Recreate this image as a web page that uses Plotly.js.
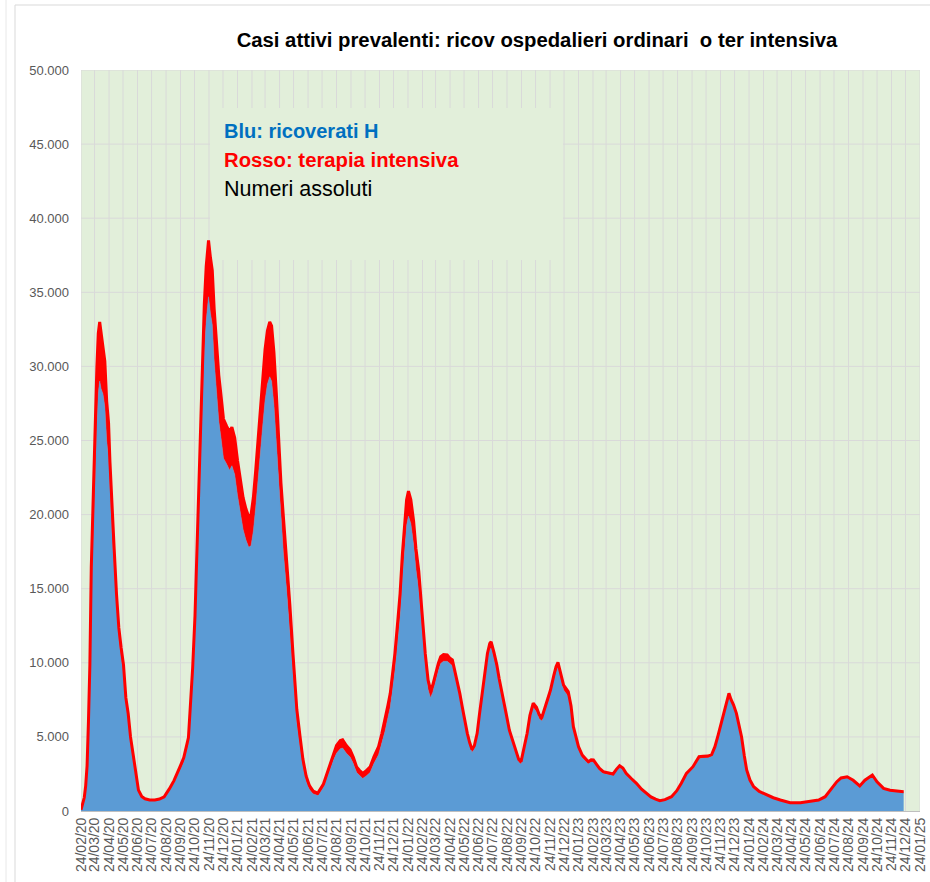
<!DOCTYPE html>
<html>
<head>
<meta charset="utf-8">
<script src="https://cdn.plot.ly/plotly-3.0.1.min.js"></script>
<style>html,body{margin:0;padding:0;background:#fff;}#chart{width:930px;height:882px;}</style>
</head>
<body>
<div id="chart"></div>
<script>
const dates = ["2020-02-24","2020-02-28","2020-03-02","2020-03-05","2020-03-08","2020-03-11","2020-03-14","2020-03-17","2020-03-20","2020-03-23","2020-03-26","2020-03-29","2020-04-01","2020-04-04","2020-04-07","2020-04-11","2020-04-15","2020-04-19","2020-04-23","2020-04-26","2020-05-01","2020-05-05","2020-05-10","2020-05-15","2020-05-20","2020-05-25","2020-05-30","2020-06-04","2020-06-09","2020-06-15","2020-06-20","2020-06-26","2020-07-03","2020-07-10","2020-07-20","2020-07-31","2020-08-10","2020-08-20","2020-08-31","2020-09-10","2020-09-23","2020-10-01","2020-10-11","2020-10-15","2020-10-20","2020-10-25","2020-10-29","2020-11-02","2020-11-06","2020-11-10","2020-11-14","2020-11-18","2020-11-23","2020-11-27","2020-12-01","2020-12-05","2020-12-10","2020-12-15","2020-12-20","2020-12-25","2021-01-01","2021-01-07","2021-01-12","2021-01-18","2021-01-24","2021-01-30","2021-02-05","2021-02-11","2021-02-17","2021-02-22","2021-02-27","2021-03-04","2021-03-09","2021-03-14","2021-03-19","2021-03-24","2021-03-29","2021-04-03","2021-04-07","2021-04-12","2021-04-17","2021-04-22","2021-04-27","2021-05-02","2021-05-09","2021-05-16","2021-05-23","2021-05-31","2021-06-07","2021-06-13","2021-06-20","2021-06-27","2021-07-05","2021-07-15","2021-07-27","2021-08-03","2021-08-10","2021-08-17","2021-08-24","2021-09-01","2021-09-06","2021-09-14","2021-09-22","2021-09-29","2021-10-06","2021-10-12","2021-10-19","2021-10-26","2021-11-04","2021-11-12","2021-11-22","2021-11-29","2021-12-06","2021-12-12","2021-12-17","2021-12-22","2021-12-27","2022-01-02","2022-01-07","2022-01-12","2022-01-16","2022-01-21","2022-01-25","2022-01-30","2022-02-05","2022-02-10","2022-02-16","2022-02-23","2022-03-02","2022-03-08","2022-03-13","2022-03-18","2022-03-24","2022-03-30","2022-04-04","2022-04-10","2022-04-18","2022-04-24","2022-04-29","2022-05-04","2022-05-09","2022-05-15","2022-05-20","2022-05-25","2022-05-31","2022-06-05","2022-06-10","2022-06-15","2022-06-21","2022-06-26","2022-07-02","2022-07-07","2022-07-13","2022-07-18","2022-07-21","2022-07-27","2022-08-02","2022-08-07","2022-08-14","2022-08-22","2022-08-29","2022-09-05","2022-09-12","2022-09-18","2022-09-23","2022-09-28","2022-10-06","2022-10-12","2022-10-19","2022-10-26","2022-11-01","2022-11-07","2022-11-15","2022-11-25","2022-12-02","2022-12-07","2022-12-11","2022-12-17","2022-12-23","2023-01-02","2023-01-08","2023-01-13","2023-01-19","2023-01-24","2023-02-01","2023-02-08","2023-02-14","2023-02-20","2023-02-25","2023-03-04","2023-03-10","2023-03-18","2023-03-28","2023-04-08","2023-04-15","2023-04-22","2023-04-29","2023-05-06","2023-05-17","2023-05-28","2023-06-08","2023-06-18","2023-06-28","2023-07-08","2023-07-17","2023-07-28","2023-08-11","2023-08-22","2023-09-01","2023-09-12","2023-09-19","2023-09-26","2023-10-02","2023-10-09","2023-10-18","2023-10-28","2023-11-05","2023-11-12","2023-11-19","2023-11-26","2023-12-04","2023-12-12","2023-12-16","2023-12-22","2023-12-28","2024-01-03","2024-01-08","2024-01-14","2024-01-19","2024-01-26","2024-02-03","2024-02-15","2024-03-02","2024-03-16","2024-03-31","2024-04-21","2024-05-13","2024-06-03","2024-06-21","2024-07-05","2024-07-19","2024-07-30","2024-08-08","2024-08-21","2024-09-03","2024-09-17","2024-09-28","2024-10-14","2024-10-24","2024-11-07","2024-11-21","2024-12-07","2024-12-20"];

const ricoverati = [54,400,742,1346,2394,5038,8372,14363,17708,20692,23112,26029,28192,29010,28485,28144,27284,25007,23805,21533,18149,16270,13618,11500,10300,9300,7200,6200,4700,3500,2400,1300,900,760,700,700,760,900,1400,1900,2750,3300,4500,6200,8800,12000,16000,19840,24005,27636,30914,33074,34697,33600,32811,30391,28000,26300,25100,23800,23400,23000,23300,22700,21300,20000,19000,18300,17800,17900,18900,20500,22400,24600,26000,27700,28800,29300,29000,27400,25000,22000,19500,17500,15000,12300,9200,5900,4300,3000,2000,1450,1150,1050,1600,2200,2850,3400,3900,4200,4250,3900,3650,3200,2600,2400,2200,2350,2600,3200,3800,4600,5400,6300,7000,8300,9500,11500,13100,15700,17500,19300,19900,19400,18000,16300,14900,12300,9800,8200,7650,8000,8800,9500,9950,10100,10100,9900,9800,9100,8500,7600,6750,5900,5000,4400,3950,4200,5030,6300,7650,9000,10250,10900,11000,10300,9500,8600,7400,6300,5200,4550,3800,3300,3150,3900,5030,6200,6980,6700,6200,6070,6900,7830,8800,9400,9680,9000,8160,7720,6800,5450,4700,4140,3600,3350,3180,3300,3300,3000,2750,2530,2480,2390,2700,2950,2800,2440,2100,1790,1400,1130,900,750,660,720,920,1300,1800,2460,2700,2890,3200,3550,3580,3600,3700,4220,5000,5890,6900,7780,7400,7000,6440,5600,4880,3600,2670,2000,1560,1250,1030,850,700,525,525,595,700,920,1470,1910,2150,2230,2000,1620,2000,2350,1900,1470,1350,1300,1250];

const terapiaIntensiva = [26,64,166,351,650,1028,1518,2060,2655,3204,3489,3906,4035,3994,3792,3381,3079,2635,2384,2009,1694,1427,1027,855,700,560,450,380,300,230,160,110,75,65,50,42,45,60,90,150,240,300,450,600,850,1150,1650,2022,2515,2971,3306,3670,3810,3762,3663,3517,3300,3095,2850,2650,2555,2600,2600,2490,2370,2240,2140,2090,2060,2100,2250,2480,2700,3000,3250,3450,3600,3700,3740,3550,3250,2950,2650,2450,2100,1650,1300,950,700,500,350,260,190,160,220,280,360,450,530,560,560,520,480,430,370,350,340,350,390,450,540,630,740,830,940,1030,1140,1300,1550,1650,1690,1700,1690,1620,1550,1400,1300,1050,800,630,550,500,480,470,460,450,430,400,390,380,350,320,300,270,240,220,200,200,210,240,280,330,380,400,420,400,380,360,330,290,250,230,200,180,180,190,210,250,290,300,300,300,310,330,340,350,350,340,340,330,290,240,210,200,170,150,150,150,140,130,120,120,110,110,110,110,105,100,90,80,70,60,50,45,40,45,45,55,70,80,90,100,100,110,110,110,110,120,130,140,150,160,160,150,150,140,130,110,100,90,80,70,50,45,40,35,35,35,40,45,60,70,80,80,75,70,75,80,75,60,55,50,50];

const tickLabels = ["24/02/20","24/03/20","24/04/20","24/05/20","24/06/20","24/07/20","24/08/20","24/09/20","24/10/20","24/11/20","24/12/20","24/01/21","24/02/21","24/03/21","24/04/21","24/05/21","24/06/21","24/07/21","24/08/21","24/09/21","24/10/21","24/11/21","24/12/21","24/01/22","24/02/22","24/03/22","24/04/22","24/05/22","24/06/22","24/07/22","24/08/22","24/09/22","24/10/22","24/11/22","24/12/22","24/01/23","24/02/23","24/03/23","24/04/23","24/05/23","24/06/23","24/07/23","24/08/23","24/09/23","24/10/23","24/11/23","24/12/23","24/01/24","24/02/24","24/03/24","24/04/24","24/05/24","24/06/24","24/07/24","24/08/24","24/09/24","24/10/24","24/11/24","24/12/24","24/01/25"];
const tickVals = tickLabels.map(s => "20" + s.slice(6,8) + "-" + s.slice(3,5) + "-" + s.slice(0,2));

const yTicks = [0,5000,10000,15000,20000,25000,30000,35000,40000,45000,50000];

const titleText = "Casi attivi prevalenti: ricov ospedalieri ordinari \u00a0o ter intensiva";
const noteLines = ["Blu: ricoverati H","Rosso: terapia intensiva","Numeri assoluti"];

const L = 81, R = 920, T = 70, B = 811;
const W = 930, H = 882;
const px = x => (x - L) / (R - L);
const py = y => (B - y) / (B - T);
const xStart = "2020-02-24", xEnd = "2025-01-24";
const t0 = Date.parse(xStart), t1 = Date.parse(xEnd);

// text box region (pixels) in which the gridlines are hidden
const box = {x0: 210, x1: 563, y0: 108, y1: 260};
const GRID = '#D9D9D9';

const shapes = [];
tickVals.forEach(d => {
  const xp = L + (Date.parse(d) - t0) / (t1 - t0) * (R - L);
  const seg = (a, b) => shapes.push({type: 'line', xref: 'x', yref: 'paper', x0: d, x1: d, y0: a, y1: b,
                                     line: {color: GRID, width: 1}, layer: 'below'});
  if (xp > box.x0 && xp < box.x1) { seg(0, py(box.y1)); seg(py(box.y0), 1); }
  else seg(0, 1);
});
yTicks.forEach(v => {
  if (v === 0) return;
  const yp = B - v / 50000 * (B - T);
  const seg = (a, b) => shapes.push({type: 'line', xref: 'paper', yref: 'y', x0: a, x1: b, y0: v, y1: v,
                                     line: {color: GRID, width: 1}, layer: 'below'});
  if (yp > box.y0 && yp < box.y1) { seg(0, px(box.x0)); seg(px(box.x1), 1); }
  else seg(0, 1);
});
shapes.push({type: 'line', xref: 'paper', yref: 'paper', x0: px(15), x1: px(15), y0: py(5), y1: py(890),
             line: {color: '#D9D9D9', width: 1}});
shapes.push({type: 'line', xref: 'paper', yref: 'paper', x0: px(15), x1: px(940), y0: py(5), y1: py(5),
             line: {color: '#D9D9D9', width: 1}});
shapes.push({type: 'line', xref: 'paper', yref: 'paper', x0: px(6), x1: px(6), y0: py(0), y1: py(890),
             line: {color: '#E8E8E8', width: 1}});

const traces = [
  {x: dates, y: ricoverati, type: 'scatter', mode: 'lines', stackgroup: 'one',
   line: {color: '#5B9BD5', width: 0.5}, fillcolor: '#5B9BD5', hoverinfo: 'skip', name: 'Ricoverati'},
  {x: dates, y: terapiaIntensiva, type: 'scatter', mode: 'lines', stackgroup: 'one',
   line: {color: '#FF0000', width: 3}, fillcolor: '#FF0000', hoverinfo: 'skip', name: 'Terapia intensiva'}
];

const font = "Liberation Sans, Arial, sans-serif";

const layout = {
  width: W, height: H,
  margin: {l: L, r: W - R, t: T, b: H - B},
  paper_bgcolor: '#FFFFFF',
  plot_bgcolor: '#E2EFDA',
  separators: ',.',
  showlegend: false,
  title: {text: '<b>' + titleText + '</b>', font: {family: font, size: 20.3, color: '#000000'},
          xref: 'paper', x: px(537), xanchor: 'center', yref: 'container', y: 1 - 40/H, yanchor: 'middle'},
  xaxis: {
    type: 'date', range: [xStart, xEnd],
    tickmode: 'array', tickvals: tickVals, ticktext: tickLabels, tickangle: -90,
    tickfont: {family: font, size: 14, color: '#595959'},
    showgrid: false,
    showline: true, linecolor: '#BFBFBF', linewidth: 1, ticks: '', zeroline: false, fixedrange: true
  },
  yaxis: {
    range: [0, 50000], tickmode: 'array', tickvals: yTicks, tickformat: ',d',
    tickfont: {family: font, size: 13, color: '#595959'}, ticklabelstandoff: 11,
    showgrid: false, zeroline: false, showline: false, ticks: '', fixedrange: true
  },
  shapes: shapes,
  annotations: [
    {text: '<b>' + noteLines[0] + '</b>', xref: 'paper', yref: 'paper', x: px(222), y: py(131),
     xanchor: 'left', yanchor: 'middle', showarrow: false, font: {family: font, size: 20, color: '#0070C0'}},
    {text: '<b>' + noteLines[1] + '</b>', xref: 'paper', yref: 'paper', x: px(222), y: py(160),
     xanchor: 'left', yanchor: 'middle', showarrow: false, font: {family: font, size: 20.3, color: '#FF0000'}},
    {text: noteLines[2], xref: 'paper', yref: 'paper', x: px(222), y: py(189),
     xanchor: 'left', yanchor: 'middle', showarrow: false, font: {family: font, size: 21.5, color: '#000000'}}
  ]
};

Plotly.newPlot('chart', traces, layout, {displayModeBar: false, staticPlot: true});
</script>
</body>
</html>
